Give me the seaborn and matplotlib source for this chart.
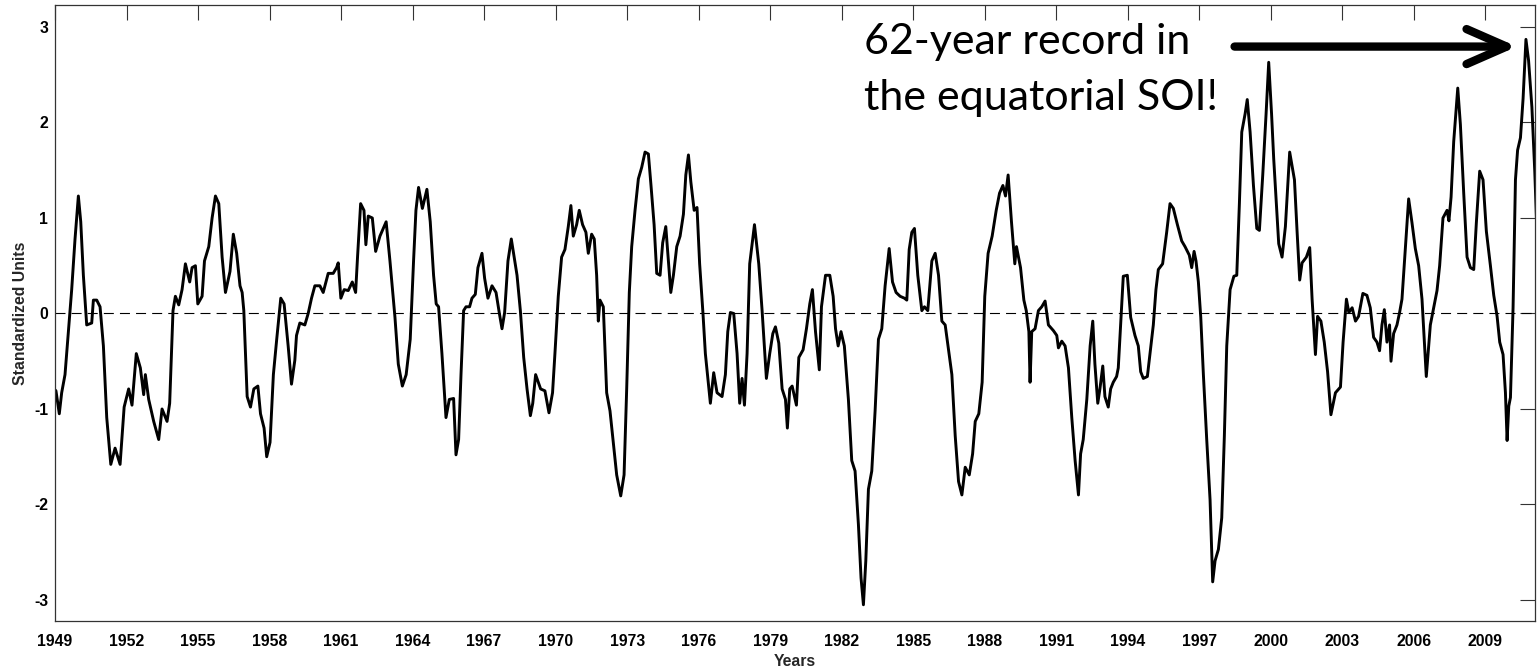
import matplotlib
matplotlib.use("Agg")
import matplotlib.pyplot as plt
import seaborn as sns
import pandas as pd

# ---- data (decimal year, standardized units) ----
years = [
    1949.00, 1949.04, 1949.18, 1949.28, 1949.42, 1949.56, 1949.70, 1949.84, 1949.98, 1950.08,
    1950.19, 1950.33, 1950.54, 1950.61, 1950.75, 1950.89, 1951.03, 1951.17, 1951.34, 1951.52,
    1951.73, 1951.90, 1952.09, 1952.23, 1952.41, 1952.58, 1952.72, 1952.79, 1952.93, 1953.14,
    1953.35, 1953.49, 1953.70, 1953.81, 1953.95, 1954.05, 1954.19, 1954.33, 1954.47, 1954.65,
    1954.75, 1954.89, 1954.99, 1955.17, 1955.27, 1955.45, 1955.59, 1955.73, 1955.87, 1956.01,
    1956.15, 1956.34, 1956.48, 1956.62, 1956.76, 1956.85, 1956.92, 1957.06, 1957.20, 1957.34,
    1957.51, 1957.62, 1957.77, 1957.88, 1958.02, 1958.16, 1958.30, 1958.47, 1958.61, 1958.78,
    1958.92,
    1959.06, 1959.13, 1959.27, 1959.48, 1959.62, 1959.76, 1959.90, 1960.11, 1960.25, 1960.46,
    1960.67, 1960.81, 1960.88, 1960.99, 1961.13, 1961.30, 1961.47, 1961.61, 1961.69, 1961.82,
    1961.96, 1962.04, 1962.14, 1962.31, 1962.45, 1962.63, 1962.77, 1962.89, 1963.05, 1963.26,
    1963.40, 1963.57, 1963.73, 1963.90, 1964.04, 1964.14, 1964.25, 1964.41, 1964.60, 1964.74,
    1964.88, 1964.99, 1965.09, 1965.23, 1965.40, 1965.54, 1965.72, 1965.82, 1965.93, 1966.03,
    1966.14, 1966.24, 1966.39, 1966.49, 1966.63, 1966.74, 1966.91, 1967.02, 1967.16, 1967.33,
    1967.50, 1967.64, 1967.75, 1967.86, 1968.00, 1968.14, 1968.26, 1968.38, 1968.52, 1968.66,
    1968.80, 1968.94, 1969.04, 1969.16, 1969.37, 1969.55,
    1969.72, 1969.87, 1969.97, 1970.11, 1970.25, 1970.39, 1970.53, 1970.64, 1970.74, 1970.88,
    1970.99, 1971.13, 1971.27, 1971.37, 1971.51, 1971.62, 1971.72, 1971.79, 1971.86, 1972.00,
    1972.14, 1972.28, 1972.42, 1972.56, 1972.73, 1972.87, 1972.98, 1973.09, 1973.19, 1973.33,
    1973.47, 1973.61, 1973.75, 1973.89, 1974.00, 1974.13, 1974.24, 1974.38, 1974.49, 1974.62,
    1974.73, 1974.83, 1974.94, 1975.08, 1975.22, 1975.36, 1975.46, 1975.57, 1975.67, 1975.81,
    1975.93, 1976.04, 1976.18, 1976.28, 1976.37, 1976.49, 1976.63, 1976.77, 1976.98, 1977.12,
    1977.22, 1977.33, 1977.47, 1977.61, 1977.72, 1977.82, 1977.92, 1978.03, 1978.14, 1978.34,
    1978.52, 1978.66, 1978.84, 1978.98, 1979.11, 1979.22, 1979.36, 1979.50, 1979.64,
    1979.72, 1979.82, 1979.92, 1980.10, 1980.20, 1980.38, 1980.52, 1980.66, 1980.77, 1980.90,
    1981.06, 1981.15, 1981.32, 1981.50, 1981.64, 1981.74, 1981.85, 1981.97, 1982.11, 1982.28,
    1982.42, 1982.56, 1982.70, 1982.81, 1982.91, 1983.01, 1983.12, 1983.26, 1983.40, 1983.54,
    1983.68, 1983.82, 1983.99, 1984.13, 1984.28, 1984.45, 1984.63, 1984.73, 1984.83, 1984.94,
    1985.05, 1985.19, 1985.36, 1985.47, 1985.61, 1985.78, 1985.92, 1986.06, 1986.20, 1986.34,
    1986.48, 1986.62, 1986.76, 1986.90, 1987.04, 1987.18, 1987.35, 1987.49, 1987.60, 1987.75,
    1987.89, 1988.00, 1988.14, 1988.31, 1988.48, 1988.62, 1988.76, 1988.87, 1988.98, 1989.12,
    1989.26, 1989.33, 1989.50, 1989.64, 1989.74, 1989.85,
    1989.90, 1989.97, 1990.11, 1990.25, 1990.39, 1990.53, 1990.67, 1990.88, 1991.02, 1991.09,
    1991.23, 1991.37, 1991.51, 1991.65, 1991.79, 1991.93, 1992.02, 1992.13, 1992.28, 1992.42,
    1992.53, 1992.62, 1992.74, 1992.83, 1992.95, 1993.04, 1993.18, 1993.28, 1993.39, 1993.53,
    1993.60, 1993.70, 1993.81, 1993.98, 1994.12, 1994.30, 1994.44, 1994.54, 1994.65, 1994.82,
    1994.93, 1995.07, 1995.18, 1995.28, 1995.46, 1995.63, 1995.77, 1995.91, 1996.08, 1996.26,
    1996.40, 1996.58, 1996.68, 1996.78, 1996.86, 1996.96, 1997.06, 1997.17, 1997.31, 1997.45,
    1997.56, 1997.66, 1997.80, 1997.94, 1998.05, 1998.15, 1998.29, 1998.45, 1998.57, 1998.68,
    1998.78, 1998.92, 1999.01, 1999.13, 1999.27, 1999.41, 1999.52, 1999.66, 1999.80, 1999.91,
    2000.03,
    2000.12, 2000.33, 2000.47, 2000.61, 2000.79, 2000.99, 2001.10, 2001.21, 2001.31, 2001.49,
    2001.63, 2001.73, 2001.87, 2001.96, 2002.10, 2002.24, 2002.38, 2002.52, 2002.71, 2002.92,
    2003.03, 2003.17, 2003.27, 2003.41, 2003.55, 2003.68, 2003.86, 2004.03, 2004.17, 2004.31,
    2004.45, 2004.56, 2004.66, 2004.76, 2004.87, 2004.98, 2005.04, 2005.15, 2005.29, 2005.40,
    2005.50, 2005.64, 2005.78, 2005.92, 2006.06, 2006.20, 2006.34, 2006.52, 2006.69, 2006.83,
    2006.97, 2007.08, 2007.22, 2007.39, 2007.47, 2007.56, 2007.67, 2007.84, 2007.95, 2008.09,
    2008.23, 2008.37, 2008.51, 2008.62, 2008.76, 2008.90, 2009.04, 2009.21, 2009.35, 2009.49,
    2009.60, 2009.74, 2009.84, 2009.91, 2009.98, 2010.05, 2010.16, 2010.26, 2010.35, 2010.47,
    2010.58, 2010.70, 2010.81, 2010.95, 2011.07, 2011.14,
]

soi = [
    -0.80, -0.81, -1.05, -0.83, -0.64, -0.19, 0.25, 0.78, 1.23, 0.96,
    0.40, -0.12, -0.10, 0.14, 0.14, 0.07, -0.34, -1.09, -1.58, -1.41,
    -1.58, -0.98, -0.79, -0.96, -0.42, -0.57, -0.85, -0.64, -0.90, -1.13,
    -1.32, -1.00, -1.13, -0.94, 0.03, 0.18, 0.09, 0.25, 0.52, 0.33,
    0.48, 0.50, 0.10, 0.18, 0.55, 0.70, 1.00, 1.23, 1.15, 0.59,
    0.22, 0.44, 0.83, 0.63, 0.29, 0.22, 0.03, -0.87, -0.98, -0.79,
    -0.76, -1.05, -1.20, -1.50, -1.35, -0.64, -0.27, 0.16, 0.10, -0.34,
    -0.74,
    -0.49, -0.23, -0.10, -0.12, 0.00, 0.16, 0.29, 0.29, 0.22, 0.42,
    0.42, 0.48, 0.53, 0.16, 0.25, 0.24, 0.33, 0.22, 0.59, 1.15,
    1.08, 0.72, 1.02, 1.00, 0.65, 0.81, 0.89, 0.96, 0.55, -0.04,
    -0.53, -0.76, -0.64, -0.27, 0.55, 1.08, 1.32, 1.10, 1.30, 0.96,
    0.40, 0.10, 0.07, -0.42, -1.09, -0.90, -0.89, -1.48, -1.32, -0.64,
    0.03, 0.07, 0.07, 0.16, 0.20, 0.48, 0.63, 0.37, 0.16, 0.29,
    0.22, 0.00, -0.16, 0.01, 0.55, 0.78, 0.59, 0.40, 0.03, -0.46,
    -0.79, -1.07, -0.94, -0.64, -0.79, -0.81,
    -1.04, -0.83, -0.42, 0.18, 0.59, 0.67, 0.91, 1.13, 0.81, 0.93,
    1.08, 0.93, 0.85, 0.63, 0.83, 0.78, 0.40, -0.08, 0.14, 0.07,
    -0.83, -1.02, -1.35, -1.69, -1.91, -1.69, -0.79, 0.22, 0.70, 1.08,
    1.41, 1.53, 1.69, 1.67, 1.34, 0.93, 0.42, 0.40, 0.74, 0.91,
    0.55, 0.22, 0.40, 0.70, 0.81, 1.04, 1.45, 1.66, 1.38, 1.08,
    1.11, 0.52, 0.00, -0.42, -0.64, -0.94, -0.62, -0.83, -0.87, -0.64,
    -0.19, 0.01, 0.00, -0.42, -0.94, -0.68, -0.96, -0.42, 0.52, 0.93,
    0.52, 0.03, -0.68, -0.42, -0.21, -0.14, -0.31, -0.79, -0.90,
    -1.20, -0.79, -0.76, -0.96, -0.46, -0.38, -0.16, 0.10, 0.25, -0.19,
    -0.59, 0.07, 0.40, 0.40, 0.18, -0.16, -0.34, -0.19, -0.34, -0.90,
    -1.54, -1.65, -2.21, -2.77, -3.05, -2.59, -1.84, -1.65, -1.02, -0.27,
    -0.16, 0.29, 0.68, 0.33, 0.22, 0.18, 0.16, 0.14, 0.67, 0.85,
    0.89, 0.40, 0.03, 0.07, 0.03, 0.55, 0.63, 0.40, -0.08, -0.12,
    -0.38, -0.64, -1.28, -1.76, -1.90, -1.61, -1.69, -1.47, -1.13, -1.05,
    -0.72, 0.18, 0.63, 0.81, 1.08, 1.26, 1.34, 1.23, 1.45, 0.96,
    0.52, 0.70, 0.48, 0.14, 0.03, -0.19,
    -0.72, -0.19, -0.16, 0.03, 0.07, 0.13, -0.12, -0.18, -0.23, -0.36,
    -0.29, -0.34, -0.57, -1.09, -1.54, -1.90, -1.47, -1.32, -0.90, -0.34,
    -0.08, -0.53, -0.94, -0.79, -0.55, -0.87, -0.98, -0.79, -0.72, -0.66,
    -0.57, -0.12, 0.39, 0.40, -0.04, -0.23, -0.34, -0.61, -0.68, -0.66,
    -0.42, -0.12, 0.25, 0.46, 0.52, 0.85, 1.15, 1.10, 0.93, 0.76,
    0.70, 0.61, 0.48, 0.65, 0.55, 0.33, -0.04, -0.64, -1.32, -1.95,
    -2.81, -2.59, -2.47, -2.14, -1.28, -0.34, 0.25, 0.39, 0.40, 1.15,
    1.90, 2.09, 2.24, 1.90, 1.34, 0.89, 0.87, 1.45, 2.09, 2.63,
    2.09,
    1.62, 0.73, 0.59, 0.91, 1.69, 1.40, 0.86, 0.35, 0.53, 0.59,
    0.69, 0.15, -0.43, -0.03, -0.08, -0.30, -0.61, -1.06, -0.83, -0.77,
    -0.30, 0.15, 0.01, 0.06, -0.08, -0.03, 0.21, 0.19, 0.06, -0.25,
    -0.30, -0.39, -0.12, 0.04, -0.30, -0.12, -0.50, -0.21, -0.12, 0.01,
    0.15, 0.68, 1.20, 0.95, 0.68, 0.50, 0.15, -0.66, -0.12, 0.06,
    0.24, 0.50, 1.00, 1.08, 0.97, 1.22, 1.80, 2.36, 1.98, 1.26,
    0.59, 0.48, 0.46, 0.95, 1.49, 1.40, 0.86, 0.50, 0.19, -0.03,
    -0.30, -0.43, -0.83, -1.33, -0.97, -0.88, 0.06, 1.40, 1.71, 1.84,
    2.25, 2.87, 2.65, 2.16, 1.49, 1.00,
]

year_ticks = list(range(1949, 2010, 3))
value_ticks = [-3, -2, -1, 0, 1, 2, 3]
annotation_lines = ["62-year record in", "the equatorial SOI!"]

df = pd.DataFrame({"Years": years, "Standardized Units": soi})

sns.set_theme(style="white")
plt.rcParams["font.family"] = ["Liberation Sans", "DejaVu Sans"]
plt.rcParams["axes.unicode_minus"] = False

fig = plt.figure(figsize=(15.37, 6.71), dpi=100)
ax = fig.add_axes([55 / 1537, 1 - 621 / 671, 1480 / 1537, 616 / 671])

ax.axhline(0, color="black", lw=0.8, linestyle=(0, (9, 5.5)), zorder=1)
sns.lineplot(data=df, x="Years", y="Standardized Units", ax=ax, color="black",
             linewidth=2.1, estimator=None, sort=False, zorder=2)

ax.set_xlim(1949, 2011.08)
ax.set_ylim(-3.22, 3.23)
ax.set_xticks(year_ticks)
ax.set_xticklabels([str(y) for y in year_ticks])
ax.set_yticks(value_ticks)
ax.set_yticklabels([str(v) for v in value_ticks])

ax.tick_params(axis="both", which="major", direction="in", length=11, width=0.8,
               color="#333333", top=True, right=True, labelsize=11.3, labelcolor="black")
ax.tick_params(axis="x", pad=9)
ax.tick_params(axis="y", pad=5)
for lab in ax.get_xticklabels() + ax.get_yticklabels():
    lab.set_fontweight("bold")

for sp in ax.spines.values():
    sp.set_visible(True)
    sp.set_color("#333333")
    sp.set_linewidth(0.9)

ax.set_xlabel("Years", fontsize=11.3, fontweight="bold", labelpad=4)
ax.set_ylabel("Standardized Units", fontsize=11.3, fontweight="bold", labelpad=4.5)

# annotation text and arrow
ax.text(0.5465, 0.920, annotation_lines[0], transform=ax.transAxes, fontsize=31,
        family=["Lato", "DejaVu Sans"], va="baseline", ha="left", color="black")
ax.text(0.5465, 0.8295, annotation_lines[1], transform=ax.transAxes, fontsize=31,
        family=["Lato", "DejaVu Sans"], va="baseline", ha="left", color="black")
ax.annotate("", xy=(0.9878, 0.9325), xytext=(0.797, 0.9325),
            xycoords="axes fraction", textcoords="axes fraction",
            arrowprops=dict(arrowstyle="->,head_length=2.4,head_width=1.05",
                            lw=6, color="black", shrinkA=0, shrinkB=0,
                            capstyle="round", joinstyle="round"))

fig.savefig("out.png", dpi=100)
